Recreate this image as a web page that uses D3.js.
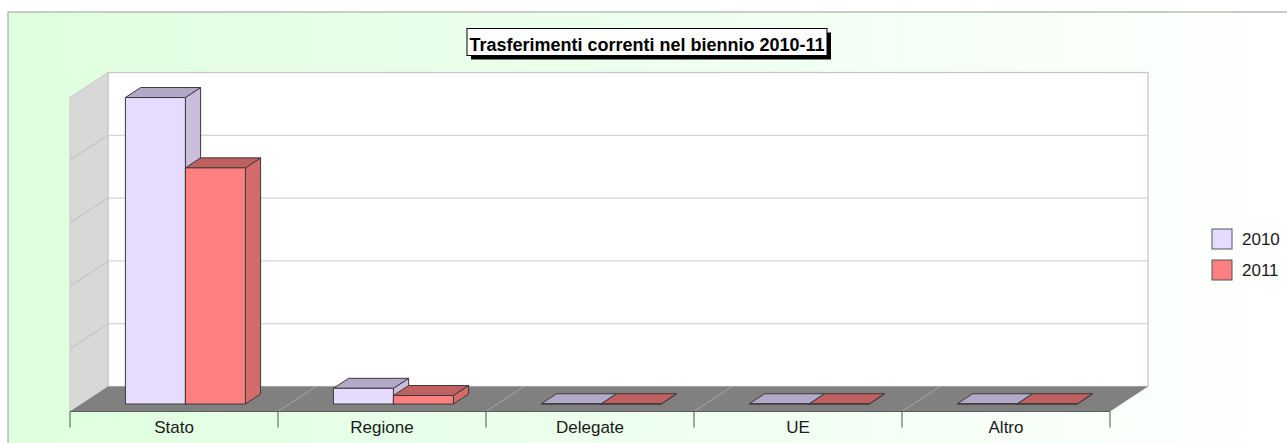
<!DOCTYPE html>
<html>
<head>
<meta charset="utf-8">
<script src="https://cdn.jsdelivr.net/npm/d3@7"></script>
<style>
  html, body { margin: 0; padding: 0; background: #ffffff; }
  svg { display: block; font-family: Arial, "Liberation Sans", sans-serif; }
</style>
</head>
<body>
<svg id="chart" width="1287" height="443"></svg>
<script>
// Trasferimenti correnti per fonte, 2010 e 2011
const categories = ["Stato", "Regione", "Delegate", "UE", "Altro"];
const years = ["2010", "2011"];
const values2010 = [488, 25, 0.4, 0.4, 0.4];
const values2011 = [376, 13.5, 0.4, 0.4, 0.4];
const gridTicks = [0, 100, 200, 300, 400, 500];
const title = "Trasferimenti correnti nel biennio 2010-11";

const seriesValues = [values2010, values2011];
const palette = {
  "2010": { front: "#e6dcff", top: "#b4a8c8", side: "#c8bedc" },
  "2011": { front: "#ff8080", top: "#c06060", side: "#d46b6b" }
};

const svg = d3.select("#chart");
const W = 1287, H = 443;

// plot box: front floor edge and depth vector of the 3D frame
const floorFrontY = 411.5;
const left = 70, right = 1110;
const depth = { dx: 38, dy: -25 };
const wallHeight = 314;

const x0 = d3.scaleBand().domain(categories).range([left, right]);
const x1 = d3.scaleBand().domain(years).range([44, 164]);
const h = d3.scaleLinear().domain([0, 500]).range([0, wallHeight]);

// background
const defs = svg.append("defs");
const grad = defs.append("linearGradient").attr("id", "bg")
  .attr("x1", "0").attr("x2", "1").attr("y1", "0").attr("y2", "0");
grad.append("stop").attr("offset", "0").attr("stop-color", "#dfffdf");
grad.append("stop").attr("offset", "0.55").attr("stop-color", "#effff0");
grad.append("stop").attr("offset", "1").attr("stop-color", "#ffffff");

svg.append("rect").attr("width", W).attr("height", H).attr("fill", "#ffffff");
svg.append("rect").attr("x", 8).attr("y", 12).attr("width", W).attr("height", H)
  .attr("fill", "url(#bg)").attr("stroke", "#b8bcb8").attr("stroke-width", 1.5);

const line = d3.line();
const backX0 = left + depth.dx, backX1 = right + depth.dx;
const backBase = floorFrontY + depth.dy;

// back wall
svg.append("rect")
  .attr("x", backX0).attr("y", backBase - h(500))
  .attr("width", backX1 - backX0).attr("height", h(500))
  .attr("fill", "#ffffff").attr("stroke", "#c4c4c4").attr("stroke-width", 1.2);

// side wall
svg.append("path")
  .attr("d", line([[left, floorFrontY], [left, floorFrontY - h(500)],
                   [backX0, backBase - h(500)], [backX0, backBase]]) + "Z")
  .attr("fill", "#d8d8d8").attr("stroke", "#c8c8c8").attr("stroke-width", 1);

// gridlines on back and side walls
const grid = svg.append("g").attr("stroke", "#d4d4d4").attr("stroke-width", 1.2);
gridTicks.slice(1, -1).forEach(v => {
  grid.append("line").attr("x1", backX0).attr("x2", backX1)
    .attr("y1", backBase - h(v)).attr("y2", backBase - h(v));
  grid.append("line").attr("x1", left).attr("x2", backX0)
    .attr("y1", floorFrontY - h(v)).attr("y2", backBase - h(v))
    .attr("stroke", "#c6c6c6");
});

// floor
svg.append("path")
  .attr("d", line([[left, floorFrontY], [right, floorFrontY],
                   [backX1, backBase], [backX0, backBase]]) + "Z")
  .attr("fill", "#808080");
const bounds = categories.map(c => x0(c)).concat([right]);
svg.append("g").selectAll("line").data(bounds.slice(1, -1)).join("line")
  .attr("x1", d => d).attr("y1", floorFrontY)
  .attr("x2", d => d + depth.dx).attr("y2", backBase)
  .attr("stroke", "#a8a8a8").attr("stroke-width", 1);

// category axis
svg.append("line").attr("x1", left).attr("x2", right)
  .attr("y1", floorFrontY).attr("y2", floorFrontY)
  .attr("stroke", "#5a5a5a").attr("stroke-width", 1);
svg.append("g").selectAll("line").data(bounds).join("line")
  .attr("x1", d => d).attr("x2", d => d)
  .attr("y1", floorFrontY).attr("y2", floorFrontY + 16)
  .attr("stroke", "#505050").attr("stroke-width", 1);
svg.append("g").selectAll("text").data(categories).join("text")
  .attr("x", d => x0(d) + x0.bandwidth() / 2)
  .attr("y", 433)
  .attr("text-anchor", "middle")
  .attr("font-size", 17)
  .attr("fill", "#1a1a1a")
  .text(d => d);

// bars: front at 30% of the depth, back at 70%
const f0 = 0.3, f1 = 0.7;
const bars = [];
categories.forEach((c, i) => {
  years.forEach((y, j) => bars.push({ cat: c, year: y, value: seriesValues[j][i] }));
});
const barG = svg.append("g")
  .attr("stroke", "#3a3a3a").attr("stroke-width", 1).attr("stroke-linejoin", "round");
bars.forEach(b => {
  const xa = x0(b.cat) + x1(b.year) + depth.dx * f0;
  const xb = xa + x1.bandwidth();
  const yBase = floorFrontY + depth.dy * f0;
  const yTop = yBase - h(b.value);
  const ddx = depth.dx * (f1 - f0), ddy = depth.dy * (f1 - f0);
  const col = palette[b.year];
  barG.append("path")
    .attr("d", line([[xb, yBase], [xb, yTop], [xb + ddx, yTop + ddy], [xb + ddx, yBase + ddy]]) + "Z")
    .attr("fill", col.side);
  barG.append("path")
    .attr("d", line([[xa, yTop], [xb, yTop], [xb + ddx, yTop + ddy], [xa + ddx, yTop + ddy]]) + "Z")
    .attr("fill", col.top);
  barG.append("rect")
    .attr("x", xa).attr("y", yTop)
    .attr("width", xb - xa).attr("height", yBase - yTop)
    .attr("fill", col.front);
});

// title box with drop shadow
const titleG = svg.append("g");
const tb = { x: 467, y: 28.5, w: 360, h: 27 };
titleG.append("rect").attr("x", tb.x + 4).attr("y", tb.y + 4)
  .attr("width", tb.w).attr("height", tb.h).attr("fill", "#000000");
titleG.append("rect").attr("x", tb.x).attr("y", tb.y)
  .attr("width", tb.w).attr("height", tb.h)
  .attr("fill", "#ffffff").attr("stroke", "#000000").attr("stroke-width", 1);
titleG.append("text")
  .attr("x", tb.x + tb.w / 2).attr("y", tb.y + 22)
  .attr("text-anchor", "middle")
  .attr("font-size", 18).attr("font-weight", "bold")
  .attr("fill", "#000000")
  .text(title);

// legend
const legend = svg.append("g").selectAll("g").data(years).join("g")
  .attr("transform", (d, i) => `translate(1212, ${229 + i * 31})`);
legend.append("rect").attr("width", 20).attr("height", 20)
  .attr("fill", d => palette[d].front).attr("stroke", "#555555").attr("stroke-width", 1);
legend.append("text").attr("x", 30).attr("y", 16)
  .attr("font-size", 17).attr("fill", "#1a1a1a")
  .text(d => d);
</script>
</body>
</html>
